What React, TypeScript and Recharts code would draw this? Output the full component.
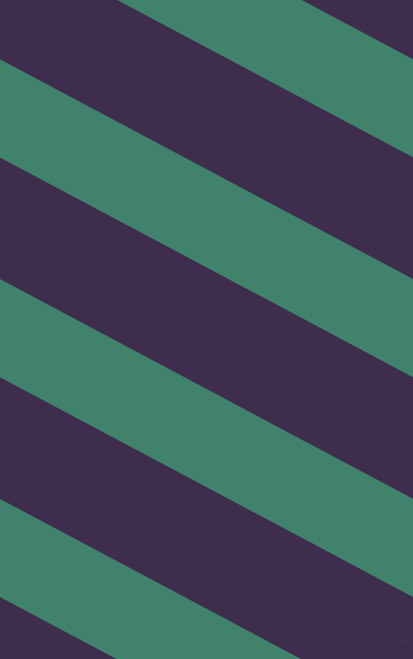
import React from "react";
import { ComposedChart, Area, XAxis, YAxis } from "recharts";

const WIDTH = 413;
const HEIGHT = 659;

// x positions of the two edges of the picture
const edgeX = [0, 413];
// where the first (hidden) band ends at each edge, in picture pixels
const startOffset = [-281.9, -62.2];
// vertical thickness of each stripe, top to bottom
const stripeHeights = [121.4, 98.4, 121.4, 98.4, 121.4, 98.4, 121.4, 98.4, 121.4];
const stripeColors = ["#3f2d4e", "#41826d"];

const stripeData = edgeX.map((x, i) => {
  const row: Record<string, number> = { x, offset: startOffset[i] };
  stripeHeights.forEach((h, j) => {
    row["s" + j] = h;
  });
  return row;
});

const App: React.FC = () => {
  return (
    <div style={{ position: "fixed", left: 0, top: 0, width: WIDTH, height: HEIGHT, background: stripeColors[0] }}>
      <ComposedChart width={WIDTH} height={HEIGHT} data={stripeData} margin={{ top: 0, right: 0, bottom: 0, left: 0 }}>
        <XAxis dataKey="x" type="number" domain={[0, WIDTH]} allowDataOverflow hide />
        <YAxis type="number" domain={[0, HEIGHT]} reversed allowDataOverflow hide />
        <Area
          dataKey="offset"
          stackId="stripes"
          type="linear"
          stroke="none"
          fill="none"
          dot={false}
          activeDot={false}
          isAnimationActive={false}
        />
        {stripeHeights.map((_, j) => (
          <Area
            key={j}
            dataKey={"s" + j}
            stackId="stripes"
            type="linear"
            stroke="none"
            fill={stripeColors[j % 2]}
            fillOpacity={1}
            dot={false}
            activeDot={false}
            isAnimationActive={false}
          />
        ))}
      </ComposedChart>
      <div
        style={{
          position: "absolute",
          right: 4,
          top: 644,
          fontFamily: "'DejaVu Sans', sans-serif",
          fontSize: 8,
          lineHeight: "10px",
          color: "#2a2134",
          textShadow: "0 0 1px #5a4a6a",
          whiteSpace: "nowrap",
        }}
      >
        pixlis.com
      </div>
    </div>
  );
};

export default App;
